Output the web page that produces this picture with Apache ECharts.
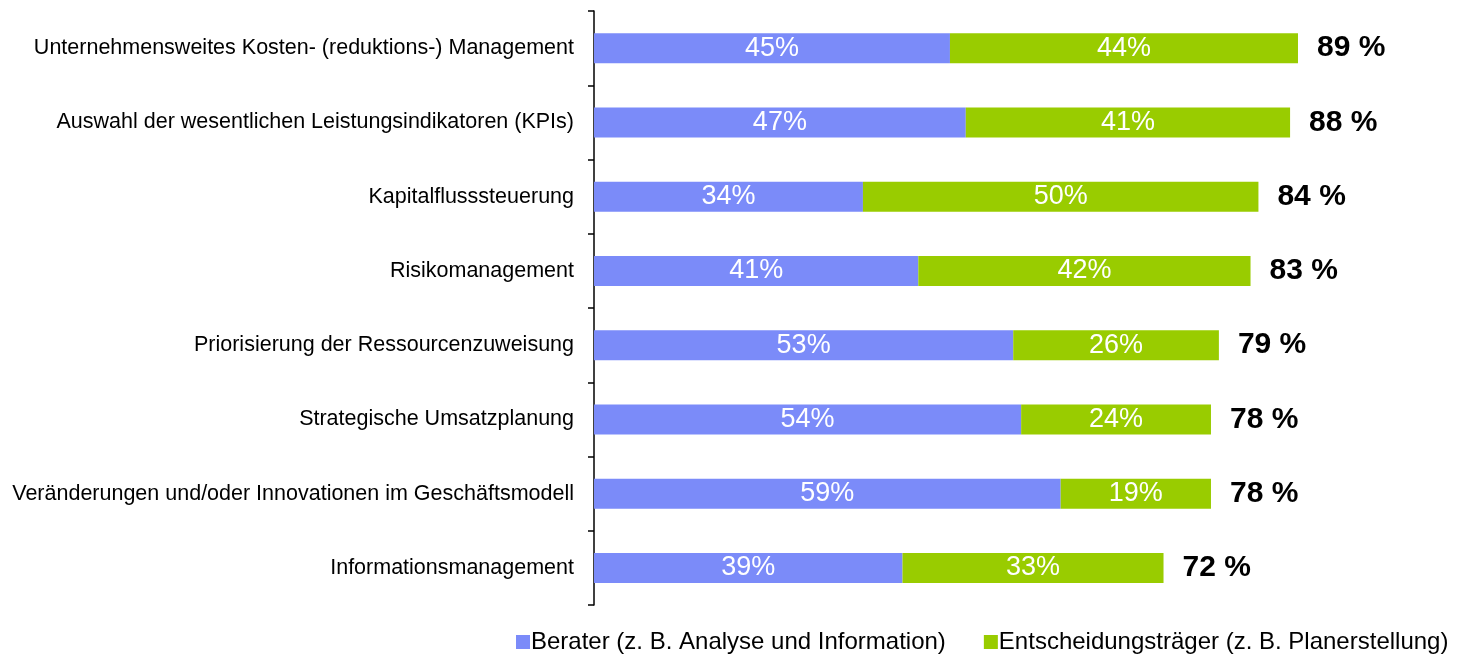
<!DOCTYPE html>
<html>
<head>
<meta charset="utf-8">
<script src="https://cdn.jsdelivr.net/npm/echarts@6/dist/echarts.min.js"></script>
<style>
html,body{margin:0;padding:0;background:#fff;}
#chart{width:1460px;height:655px;}
</style>
</head>
<body>
<div id="chart"></div>
<script>
const categories = [
  "Unternehmensweites Kosten- (reduktions-) Management",
  "Auswahl der wesentlichen Leistungsindikatoren (KPIs)",
  "Kapitalflusssteuerung",
  "Risikomanagement",
  "Priorisierung der Ressourcenzuweisung",
  "Strategische Umsatzplanung",
  "Veränderungen und/oder Innovationen im Geschäftsmodell",
  "Informationsmanagement"
];
const berater = [45, 47, 34, 41, 53, 54, 59, 39];
const entscheider = [44, 41, 50, 42, 26, 24, 19, 33];
const totals = [89, 88, 84, 83, 79, 78, 78, 72];
const seriesNames = ["Berater (z. B. Analyse und Information)", "Entscheidungsträger (z. B. Planerstellung)"];

const FONT = "'Liberation Sans', Arial, sans-serif";
const chart = echarts.init(document.getElementById('chart'), null, {renderer: 'canvas'});
chart.setOption({
  animation: false,
  backgroundColor: '#ffffff',
  textStyle: {fontFamily: FONT},
  legend: {
    left: 511, top: 625,
    itemWidth: 14, itemHeight: 14, itemGap: 38,
    icon: 'rect',
    textStyle: {fontFamily: FONT, fontSize: 24, color: '#000', padding: [0,0,0,-4]},
    data: seriesNames
  },
  grid: {left: 594, top: 11, bottom: 50, width: 791, containLabel: false},
  xAxis: {
    type: 'value', min: 0, max: 100, show: false
  },
  yAxis: {
    type: 'category', inverse: true, data: categories,
    axisLine: {show: true, lineStyle: {color: '#000', width: 1.5}},
    axisTick: {show: true, length: 6, lineStyle: {color: '#000', width: 1.5}},
    axisLabel: {fontFamily: FONT, fontSize: 21.5, color: '#000', margin: 20},
    splitLine: {show: false}
  },
  series: [
    {
      name: seriesNames[0], type: 'bar', stack: 'a', data: berater,
      barWidth: 30,
      itemStyle: {color: '#7b8bf9'},
      label: {show: true, position: 'inside', formatter: '{c}%', color: '#fff', fontSize: 27, fontFamily: FONT}
    },
    {
      name: seriesNames[1], type: 'bar', stack: 'a', data: entscheider,
      barWidth: 30,
      itemStyle: {color: '#99cc00'},
      label: {show: true, position: 'inside', formatter: '{c}%', color: '#fff', fontSize: 27, fontFamily: FONT}
    },
    {
      name: 'total', type: 'bar', stack: 'a', data: totals.map(() => 0),
      barWidth: 30, silent: true,
      itemStyle: {color: 'transparent'},
      label: {show: true, position: 'right', distance: 19,
        formatter: p => totals[p.dataIndex] + ' %',
        color: '#000', fontSize: 30, fontWeight: 'bold', fontFamily: FONT}
    }
  ]
});
</script>
</body>
</html>
